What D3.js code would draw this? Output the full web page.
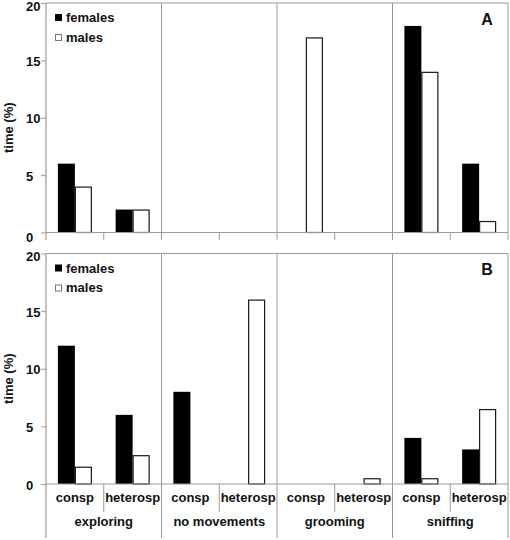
<!DOCTYPE html>
<html>
<head>
<meta charset="utf-8">
<script src="https://cdnjs.cloudflare.com/ajax/libs/d3/7.8.5/d3.min.js"></script>
<style>
  html, body { margin: 0; padding: 0; background: #fff; }
  svg { display: block; }
  text { font-family: "Liberation Sans", Arial, sans-serif; font-weight: bold; fill: #111; }
</style>
</head>
<body>
<script>
// ---- data ----
const behaviours = ["exploring", "no movements", "grooming", "sniffing"];
const contexts = ["consp", "heterosp"];
const yTicks = [0, 5, 10, 15, 20];
const seriesNames = ["females", "males"];
const femalesA = [6, 2, 0, 0, 0, 0, 18, 6];
const malesA   = [4, 2, 0, 0, 17, 0, 14, 1];
const femalesB = [12, 6, 8, 0, 0, 0, 4, 3];
const malesB   = [1.5, 2.5, 0, 16, 0, 0.5, 0.5, 6.5];

const W = 510, H = 540;
const left = 46, right = 508;
const gridColor = "#9a9a9a";

const svg = d3.select("body").append("svg").attr("width", W).attr("height", H);

const subKeys = [];
behaviours.forEach(b => contexts.forEach(c => subKeys.push(b + "|" + c)));

const x0 = d3.scaleBand().domain(behaviours).range([left, right]).padding(0);
const x1 = d3.scaleBand().domain(subKeys).range([left, right]).padding(0);
const xs = d3.scaleBand().domain(seriesNames).range([0, x1.bandwidth()]).paddingInner(0).paddingOuter(0.7);

const panels = [
  { label: "A", top: 3, bottom: 232.5, f: femalesA, m: malesA, labels: false },
  { label: "B", top: 253.5, bottom: 484, f: femalesB, m: malesB, labels: true }
];

panels.forEach(p => {
  const g = svg.append("g");
  const y = d3.scaleLinear().domain([0, 20]).range([p.bottom, p.top]);

  // frame top and right
  g.append("line").attr("x1", left).attr("x2", right).attr("y1", y(20)).attr("y2", y(20))
    .attr("stroke", gridColor).attr("stroke-width", 1);

  // major dividers in plot
  const majors = behaviours.map(b => x0(b)).slice(1).concat([right]);
  g.selectAll(".maj").data(majors).enter().append("line")
    .attr("x1", d => d).attr("x2", d => d)
    .attr("y1", y(20)).attr("y2", y(0))
    .attr("stroke", gridColor).attr("stroke-width", 1);

  // bars
  const rows = subKeys.map((k, i) => ({ key: k, f: p.f[i], m: p.m[i] }));
  const bars = [];
  rows.forEach(r => {
    if (r.f > 0) bars.push({ key: r.key, s: "females", v: r.f });
    if (r.m > 0) bars.push({ key: r.key, s: "males", v: r.m });
  });
  g.selectAll(".bar").data(bars).enter().append("rect")
    .attr("x", d => x1(d.key) + xs(d.s) + (d.s === "males" ? 0.5 : 0))
    .attr("y", d => y(d.v) + (d.s === "males" ? 0.5 : 0))
    .attr("width", d => xs.bandwidth() - (d.s === "males" ? 1 : 0))
    .attr("height", d => y(0) - y(d.v) - (d.s === "males" ? 0.5 : 0))
    .attr("fill", d => d.s === "females" ? "#000" : "#fff")
    .attr("stroke", d => d.s === "females" ? "none" : "#1a1a1a")
    .attr("stroke-width", 1.2);

  // y axis
  const yAxis = d3.axisLeft(y).tickValues(yTicks).tickSize(5).tickFormat("");
  const ya = g.append("g").attr("transform", `translate(${left},0)`).call(yAxis);
  ya.select(".domain").remove();
  ya.selectAll("line").attr("stroke", gridColor);
  g.selectAll(".ytl").data(yTicks).enter().append("text")
    .attr("x", 26)
    .attr("y", d => y(d) + (d === 0 && p.label === "A" ? 5 : (d === 20 ? 3 : 1)))
    .attr("dy", "0.35em")
    .attr("font-size", 13)
    .text(d => d);

  // axis lines
  const yBottomExt = p.labels ? 538 : p.bottom + 7.5;
  g.append("line").attr("x1", left).attr("x2", left).attr("y1", y(20)).attr("y2", yBottomExt)
    .attr("stroke", gridColor).attr("stroke-width", 1.2);
  g.append("line").attr("x1", left).attr("x2", right).attr("y1", y(0)).attr("y2", y(0))
    .attr("stroke", gridColor).attr("stroke-width", 1.2);

  // ticks below x axis
  const boundaries = subKeys.map(k => x1(k)).slice(1).concat([right]);
  g.selectAll(".xt").data(boundaries).enter().append("line")
    .attr("x1", d => d).attr("x2", d => d)
    .attr("y1", y(0))
    .attr("y2", (d, i) => {
      if (!p.labels) return p.bottom + 7.5;
      return (i % 2 === 0) ? 512 : 538;
    })
    .attr("stroke", gridColor).attr("stroke-width", 1);

  // y label
  const ly = (p.top + p.bottom) / 2 + 10;
  g.append("text")
    .attr("transform", `translate(13,${ly}) rotate(-90)`)
    .attr("text-anchor", "middle")
    .attr("font-size", 13)
    .text("time (%)");

  // legend
  const legY = [p.top + 14.5, p.top + 34];
  g.append("rect").attr("x", 55).attr("y", legY[0] - 3.5).attr("width", 7).attr("height", 7).attr("fill", "#000");
  g.append("rect").attr("x", 55.5).attr("y", legY[1] - 2.5).attr("width", 6).attr("height", 6)
    .attr("fill", "#fff").attr("stroke", "#777").attr("stroke-width", 1);
  g.append("text").attr("x", 66).attr("y", legY[0]).attr("dy", "0.35em").attr("font-size", 13).text(seriesNames[0]);
  g.append("text").attr("x", 66).attr("y", legY[1]).attr("dy", "0.35em").attr("font-size", 13).text(seriesNames[1]);

  // panel letter
  g.append("text").attr("x", 487).attr("y", p.top + 16).attr("dy", "0.35em")
    .attr("text-anchor", "middle").attr("font-size", 16).text(p.label);

  // category labels
  if (p.labels) {
    g.selectAll(".sub").data(subKeys).enter().append("text")
      .attr("x", d => x1(d) + x1.bandwidth() / 2)
      .attr("y", 497).attr("dy", "0.35em")
      .attr("text-anchor", "middle").attr("font-size", 13)
      .text(d => d.split("|")[1]);
    g.selectAll(".grp").data(behaviours).enter().append("text")
      .attr("x", d => x0(d) + x0.bandwidth() / 2)
      .attr("y", 521).attr("dy", "0.35em")
      .attr("text-anchor", "middle").attr("font-size", 13)
      .text(d => d);
  }
});
</script>
</body>
</html>
